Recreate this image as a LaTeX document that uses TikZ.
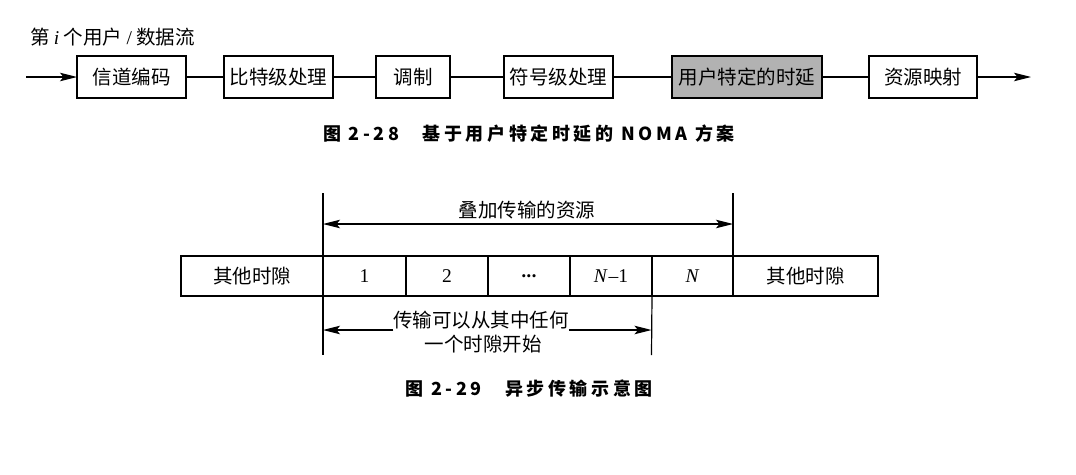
\documentclass[tikz,border=0pt]{standalone}
\usepackage{fontspec}
\setmainfont{Liberation Serif}
\newfontfamily\cjk{Noto Sans CJK SC}
\newfontfamily\cjkcap{Noto Sans CJK SC}[LetterSpace=20]
\usetikzlibrary{arrows.meta}
\begin{document}
\begin{tikzpicture}[x=1pt,y=-1pt,
  every node/.style={inner sep=0pt,outer sep=0pt},
  box/.style={draw,line width=1.3pt,minimum height=42pt,font=\cjk\fontsize{19.5}{21}\selectfont},
  cell/.style={draw,line width=1.2pt,minimum height=40pt,font=\fontsize{19.5}{21}\selectfont},
  lbl/.style={font=\cjk\fontsize{19.5}{21}\selectfont},
  captext/.style={font=\cjkcap\bfseries\fontsize{18}{20}\selectfont},
  ln/.style={line width=1.2pt},
  tip/.tip={Stealth[length=17pt,width=8.5pt,inset=3.5pt]},
  arr/.style={ln,-tip},
  darr/.style={ln,tip-tip}]
\useasboundingbox (0,0) rectangle (1076,474);
% ---- figure 2-28
\node[lbl,anchor=west] (title) at (30,37) {第 {\rmfamily\itshape i} 个用户 {\rmfamily/} 数据流};
\node[box,minimum width=109pt] (b1) at (131.5,77) {信道编码};
\node[box,minimum width=109pt] (b2) at (278.5,77) {比特级处理};
\node[box,minimum width=74pt] (b3) at (413,77) {调制};
\node[box,minimum width=109pt] (b4) at (558.5,77) {符号级处理};
\node[box,minimum width=150pt,fill=black!30] (b5) at (747,77) {用户特定的时延};
\node[box,minimum width=108pt] (b6) at (923,77) {资源映射};
\coordinate (in) at (26,77);
\coordinate (out) at (1031,77);
\draw[arr] (in) -- (b1);
\draw[ln] (b1) -- (b2);
\draw[ln] (b2) -- (b3);
\draw[ln] (b3) -- (b4);
\draw[ln] (b4) -- (b5);
\draw[ln] (b5) -- (b6);
\draw[arr] (b6) -- (out);
\node[captext] (cap1) at (529,134) {图 2-28\hspace{1.3em}基于用户特定时延的 NOMA 方案};
% ---- figure 2-29
\node[cell,minimum width=142pt,font=\cjk\fontsize{19.5}{21}\selectfont] (c0) at (252,276) {其他时隙};
\node[cell,minimum width=83pt] (c1) at (364.5,276) {1};
\node[cell,minimum width=82pt] (c2) at (447,276) {2};
\node[cell,minimum width=82pt] (c3) at (529,276) {\raisebox{-4.5pt}[0pt][0pt]{\fontsize{13}{13}\selectfont \textbullet\hspace{0.5pt}\textbullet\hspace{0.5pt}\textbullet}};
\node[cell,minimum width=82pt] (c4) at (611,276) {\textit{N}{\hspace{1pt}}–1};
\node[cell,minimum width=81pt] (c5) at (692.5,276) {\textit{N}};
\node[cell,minimum width=145pt,font=\cjk\fontsize{19.5}{21}\selectfont] (c6) at (805.5,276) {其他时隙};
\coordinate (t1) at (323,193);
\coordinate (t2) at (733,193);
\coordinate (u1) at (323,355);
\coordinate (u2) at (651.5,355);
\draw[ln] (t1) -- (c1.north west);
\draw[ln] (t2) -- (c5.north east);
\draw[ln] (c1.south west) -- (u1);
\draw[ln] (c5.south west) -- (u2);
\coordinate (a1) at (323,224);
\coordinate (a2) at (733,224);
\draw[darr] (a1) -- (a2);
\node[lbl] (top) at (527,210) {叠加传输的资源};
\node[lbl] (l1) at (481,320) {传输可以从其中任何};
\node[lbl] (l2) at (483,344) {一个时隙开始};
\coordinate (a3) at (323,330);
\coordinate (a4) at (651.5,330);
\draw[arr] (l1.west |- a3) -- (a3);
\draw[arr] (l1.east |- a4) -- (a4);
\node[captext] (cap2) at (529,389) {图 2-29\hspace{1.3em}异步传输示意图};
\end{tikzpicture}
\end{document}
